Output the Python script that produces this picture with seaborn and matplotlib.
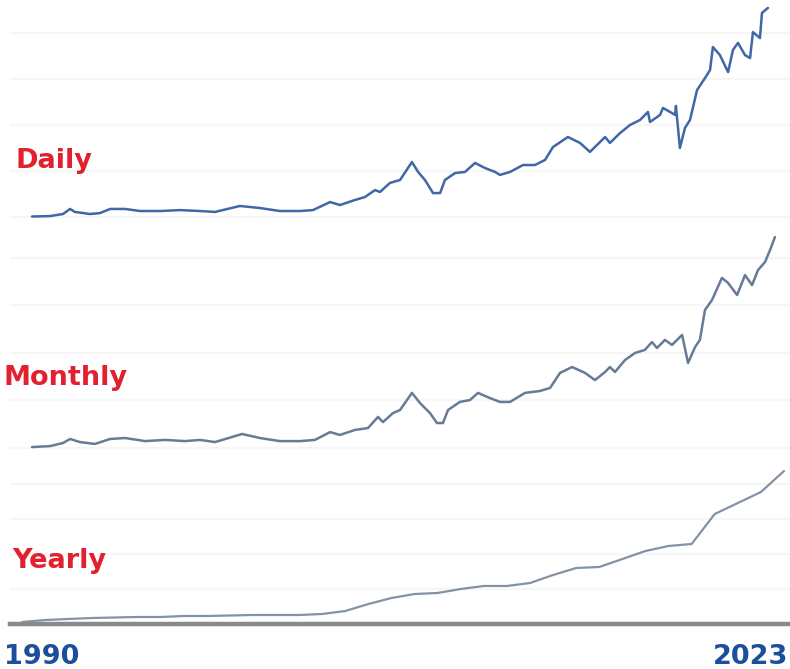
import matplotlib
matplotlib.use("Agg")
import matplotlib.pyplot as plt
import seaborn as sns
import pandas as pd

# ---------------- data ----------------
daily_years = [1990.00, 1990.82, 1991.41, 1991.73, 1991.95, 1992.64, 1993.09, 1993.55, 1994.23, 1994.91,
               1995.82, 1996.73, 1997.64, 1998.32, 1999.45, 2000.36, 2001.27, 2002.18, 2002.77, 2003.55,
               2004.00, 2004.68, 2005.14, 2005.59, 2005.82, 2006.27, 2006.73, 2007.27, 2007.55, 2007.86,
               2008.23, 2008.55, 2008.77, 2009.23, 2009.68, 2010.14, 2010.59, 2011.05, 2011.27, 2011.73,
               2012.32, 2012.86, 2013.32, 2013.68, 2014.36, 2014.91, 2015.36, 2015.82, 2016.05, 2016.27,
               2016.73, 2017.18, 2017.64, 2018.00, 2018.09, 2018.55, 2018.68, 2019.00, 2019.23, 2019.27,
               2019.45, 2019.68, 2019.91, 2020.23, 2020.59, 2020.82, 2020.95, 2021.27, 2021.64, 2021.86,
               2022.09, 2022.41, 2022.64, 2022.77, 2023.09, 2023.18, 2023.45]
daily_values = [10, 20, 65, 175, 110, 65, 85, 175, 175, 130,
                130, 150, 130, 110, 240, 195, 130, 130, 150, 325,
                260, 370, 435, 585, 545, 740, 805, 1195, 980, 805,
                520, 520, 805, 955, 980, 1175, 1065, 980, 915, 980,
                1130, 1130, 1240, 1520, 1740, 1610, 1415, 1630, 1740, 1610,
                1825, 2000, 2110, 2285, 2065, 2220, 2370, 2285, 2220, 2415,
                1500, 1935, 2110, 2760, 3020, 3195, 3695, 3520, 3150, 3630,
                3785, 3520, 3455, 4020, 3890, 4435, 4545]

monthly_years = [1990.00, 1990.82, 1991.41, 1991.73, 1992.18, 1992.86, 1993.55, 1994.23, 1995.14, 1996.05,
                 1996.95, 1997.64, 1998.32, 1999.55, 2000.36, 2001.27, 2002.18, 2002.86, 2003.55, 2004.00,
                 2004.68, 2005.27, 2005.73, 2005.95, 2006.41, 2006.73, 2007.27, 2007.64, 2008.09, 2008.41,
                 2008.68, 2008.91, 2009.45, 2009.91, 2010.27, 2010.82, 2011.27, 2011.73, 2012.41, 2013.09,
                 2013.55, 2014.00, 2014.55, 2015.14, 2015.59, 2016.05, 2016.27, 2016.50, 2016.95, 2017.41,
                 2017.86, 2018.18, 2018.41, 2018.77, 2019.09, 2019.55, 2019.82, 2020.14, 2020.36, 2020.59,
                 2020.91, 2021.36, 2021.64, 2022.05, 2022.41, 2022.73, 2023.00, 2023.32, 2023.55, 2023.77]
monthly_values = [20, 40, 105, 190, 125, 85, 190, 210, 145, 170,
                  145, 170, 125, 295, 210, 145, 145, 170, 335, 275,
                  380, 420, 655, 545, 735, 800, 1160, 945, 735, 525,
                  525, 800, 970, 1010, 1160, 1050, 970, 970, 1160, 1200,
                  1265, 1580, 1705, 1580, 1430, 1600, 1705, 1600, 1850, 2000,
                  2065, 2230, 2105, 2275, 2170, 2380, 1790, 2125, 2275, 2905,
                  3115, 3580, 3475, 3220, 3640, 3430, 3745, 3915, 4170, 4440]

yearly_years = list(range(1990, 2024))
yearly_values = [57, 114, 143, 171, 186, 200, 200, 229, 229, 243,
                 257, 257, 257, 286, 371, 571, 743, 857, 886, 1000,
                 1086, 1086, 1171, 1400, 1600, 1629, 1857, 2086, 2229, 2286,
                 3143, 3457, 3771, 4371]

panel_labels = ["Daily", "Monthly", "Yearly"]
x_labels = ["1990", "2023"]

# ---------------- figure ----------------
sns.set_style("white")
plt.rcParams["font.family"] = ["DejaVu Sans"]

W, H = 790, 669
fig = plt.figure(figsize=(W / 100, H / 100), dpi=100)

RED = "#e3202f"
BLUE = "#1b4f9c"
GRID = "#f6f6f6"


def px_axes(left, top, right, bottom):
    return fig.add_axes([left / W, 1 - bottom / H, (right - left) / W, (bottom - top) / H])


def style(ax, ticks, xlim, ylim):
    ax.set_xlim(*xlim)
    ax.set_ylim(*ylim)
    ax.set_yticks(ticks)
    ax.set_xticks([])
    ax.grid(axis="y", color=GRID, linewidth=1.5)
    ax.grid(axis="x", visible=False)
    ax.tick_params(left=False, bottom=False, labelleft=False, labelbottom=False)
    for s in ax.spines.values():
        s.set_visible(False)
    ax.set_xlabel("")
    ax.set_ylabel("")
    ax.set_facecolor("none")


# Daily
ax1 = px_axes(10, 0, 790, 222)
sns.lineplot(data=pd.DataFrame({"year": daily_years, "value": daily_values}),
             x="year", y="value", ax=ax1, color="#4067a6", linewidth=1.8)
style(ax1, [0, 1000, 2000, 3000, 4000], (1989.0, 2024.455), (-108.7, 4717.6))

# Monthly
ax2 = px_axes(10, 230, 790, 452)
sns.lineplot(data=pd.DataFrame({"year": monthly_years, "value": monthly_values}),
             x="year", y="value", ax=ax2, color="#667b96", linewidth=1.8)
style(ax2, [0, 1000, 2000, 3000, 4000], (1989.0, 2024.455), (-84.2, 4589))

# Yearly
ax3 = px_axes(10, 460, 790, 624)
sns.lineplot(data=pd.DataFrame({"year": yearly_years, "value": yearly_values}),
             x="year", y="value", ax=ax3, color="#8592a4", linewidth=1.6)
style(ax3, [1000, 2000, 3000, 4000], (1989.48, 2023.26), (0, 4686))
ax3.spines["bottom"].set_visible(True)
ax3.spines["bottom"].set_color("#8a8a8a")
ax3.spines["bottom"].set_linewidth(3.2)

# Labels
def ftext(x, y, s, color, ha="left"):
    fig.text(x / W, 1 - y / H, s, color=color, fontsize=19.5, fontweight="bold",
             ha=ha, va="baseline")

ftext(15, 168, panel_labels[0], RED)
ftext(3, 385, panel_labels[1], RED)
ftext(12, 568, panel_labels[2], RED)
ftext(4, 664, x_labels[0], BLUE)
ftext(788, 664, x_labels[1], BLUE, ha="right")

fig.savefig("out.png", dpi=100)
